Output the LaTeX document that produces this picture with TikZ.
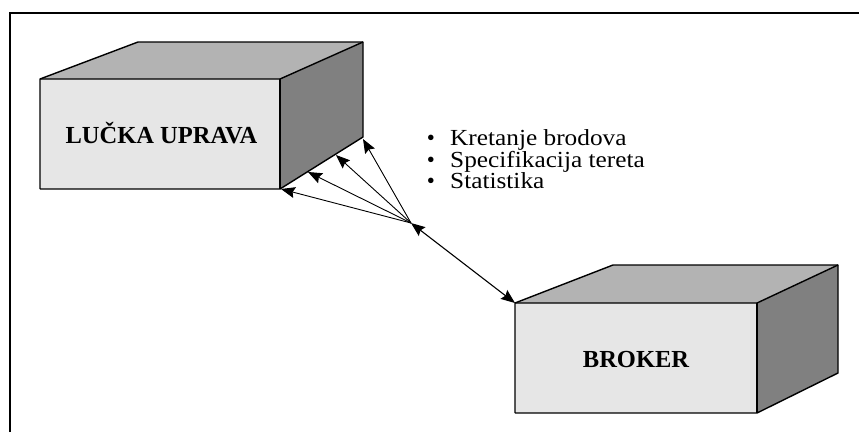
\documentclass[tikz,border=0pt]{standalone}
\usepackage{fontspec}
\setmainfont{Liberation Serif}
\usetikzlibrary{arrows.meta}
\definecolor{frontc}{HTML}{E6E6E6}
\definecolor{topc}{HTML}{B3B3B3}
\definecolor{sidec}{HTML}{808080}
\newcommand{\wideitem}[1]{\scalebox{1.1}[1]{#1}}
\tikzset{
  face/.style={draw=black, line width=1.4pt, line join=round},
  boxlabel/.style={font=\fontsize{24.5}{26}\selectfont\bfseries, anchor=base, inner sep=0pt},
  itemtext/.style={font=\fontsize{23}{24}\selectfont, anchor=base west, inner sep=0pt},
  bulletmark/.style={font=\fontsize{23}{24}\selectfont, anchor=base, inner sep=0pt},
  link/.style={draw=black, line width=0.9pt, -{Stealth[length=14pt,width=11pt,inset=2pt]}},
  dlink/.style={draw=black, line width=1.1pt, {Stealth[length=14pt,width=11pt,inset=2pt]}-{Stealth[length=14pt,width=11pt,inset=2pt]}},
  frame/.style={draw=black, line width=1.6pt}
}
\begin{document}
\begin{tikzpicture}[x=1pt,y=-1pt]
\useasboundingbox (0,0) rectangle (859,432);
% frame (cut by the page at right and bottom)
\coordinate (fbl) at (10,432);
\coordinate (ftl) at (10,13);
\coordinate (ftr) at (859,13);
\draw[frame] (fbl) -- (ftl) -- (ftr);

% Box 1: LUCKA UPRAVA
\coordinate (a1) at (40,79);
\coordinate (a2) at (280,79);
\coordinate (a3) at (280,189);
\coordinate (a4) at (40,189);
\coordinate (a5) at (138,42);
\coordinate (a6) at (363,42);
\coordinate (a7) at (363,137);
\fill[frontc] (a1) -- (a2) -- (a3) -- (a4) -- cycle;
\fill[topc] (a1) -- (a5) -- (a6) -- (a2) -- cycle;
\fill[sidec] (a2) -- (a6) -- (a7) -- (a3) -- cycle;
\draw[face] (a4) -- (a1) -- (a5) -- (a6) -- (a7) -- (a3) -- (a4);
\draw[face] (a1) -- (a2) -- (a6);
\draw[face] (a2) -- (a3);
\node[boxlabel] (lucka) at (161.5,143) {LUČKA UPRAVA};

% Box 2: BROKER
\coordinate (b1) at (515,303);
\coordinate (b2) at (757,303);
\coordinate (b3) at (757,413);
\coordinate (b4) at (515,413);
\coordinate (b5) at (613,265);
\coordinate (b6) at (838,265);
\coordinate (b7) at (838,373);
\fill[frontc] (b1) -- (b2) -- (b3) -- (b4) -- cycle;
\fill[topc] (b1) -- (b5) -- (b6) -- (b2) -- cycle;
\fill[sidec] (b2) -- (b6) -- (b7) -- (b3) -- cycle;
\draw[face] (b4) -- (b1) -- (b5) -- (b6) -- (b7) -- (b3) -- (b4);
\draw[face] (b1) -- (b2) -- (b6);
\draw[face] (b2) -- (b3);
\node[boxlabel] (broker) at (636,367) {BROKER};

% hub and arrows
\coordinate (hub) at (411,223);
\coordinate (t1) at (281,189);
\coordinate (t2) at (308,172);
\coordinate (t3) at (336,155);
\coordinate (t4) at (363,139);
\draw[link] (hub) -- (t1);
\draw[link] (hub) -- (t2);
\draw[link] (hub) -- (t3);
\draw[link] (hub) -- (t4);
\draw[dlink] (hub) -- (b1);

% bullet list
\node[bulletmark] (d1) at (431,145) {•};
\node[itemtext] (i1) at (450,145) {\wideitem{Kretanje brodova}};
\node[bulletmark] (d2) at (431,167) {•};
\node[itemtext] (i2) at (450,167) {\wideitem{Specifikacija tereta}};
\node[bulletmark] (d3) at (431,188.5) {•};
\node[itemtext] (i3) at (450,188.5) {\wideitem{Statistika}};
\end{tikzpicture}
\end{document}
